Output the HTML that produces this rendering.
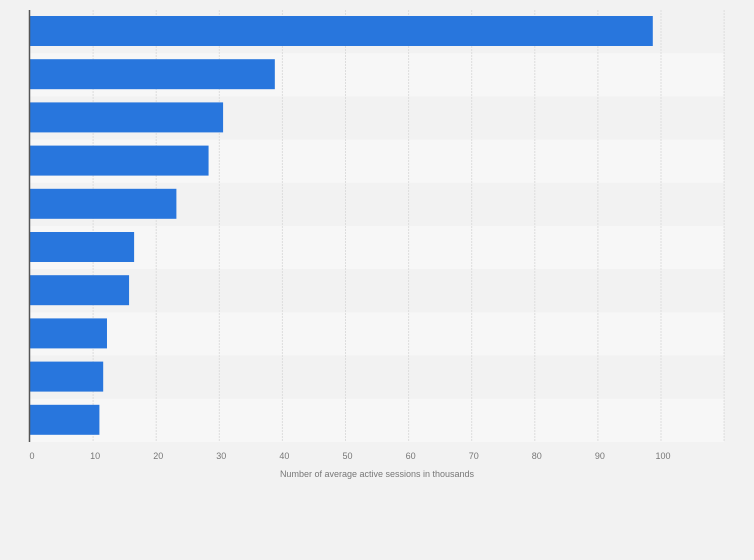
<!DOCTYPE html>
<html><head><meta charset="utf-8"><style>
html,body{margin:0;padding:0;background:#f2f2f2;}
svg{display:block;font-family:"Liberation Sans",sans-serif;}
</style></head><body>
<svg width="754" height="560" id="chart">
<g id="bands"></g><g id="grid"></g><g id="bars"></g><g id="ticks"></g>
<line x1="29.5" y1="10" x2="29.5" y2="442" stroke="#555" stroke-width="1.5"/>
<text x="377" y="477" font-size="9" fill="#777" text-anchor="middle">Number of average active sessions in thousands</text>
</svg>
<script>
const categories=["c1","c2","c3","c4","c5","c6","c7","c8","c9","c10"];
const values=[98.7,38.8,30.6,28.3,23.2,16.5,15.7,12.2,11.6,11.0];
const tickValues=[0,10,20,30,40,50,60,70,80,90,100];
const svgNs="http://www.w3.org/2000/svg";
const x0=30,pxPer=6.31,plotTop=10,rowH=43.2,xMax=110;
const xs=v=>x0+v*pxPer;
function mk(t,a,p){const e=document.createElementNS(svgNs,t);for(const k in a)e.setAttribute(k,a[k]);document.getElementById(p).appendChild(e);return e;}
categories.forEach((c,i)=>{
 const b=mk('rect',{x:x0,y:plotTop+i*rowH,width:xs(xMax)-x0,height:rowH,fill:i%2?'#f7f7f7':'#f2f2f2'},'bands');
 
 
});
tickValues.concat([110]).forEach(t=>{
 if(t===0)return;
 const l=mk('line',{x1:xs(t),x2:xs(t),y1:plotTop,y2:plotTop+rowH*categories.length,stroke:'#dddddd','stroke-dasharray':'2,1'},'grid');
 
 
});
values.forEach((v,i)=>{
 const r=mk('rect',{x:x0,y:plotTop+i*rowH+6,width:xs(v)-x0,height:30,fill:'#2876dd'},'bars');
 
 
});
tickValues.forEach(t=>{
 const tx=mk('text',{x:xs(t)+2,y:459,'font-size':'9',fill:'#777','text-anchor':'middle'},'ticks');
 tx.textContent=t;
 
 
});
</script>
</body></html>
